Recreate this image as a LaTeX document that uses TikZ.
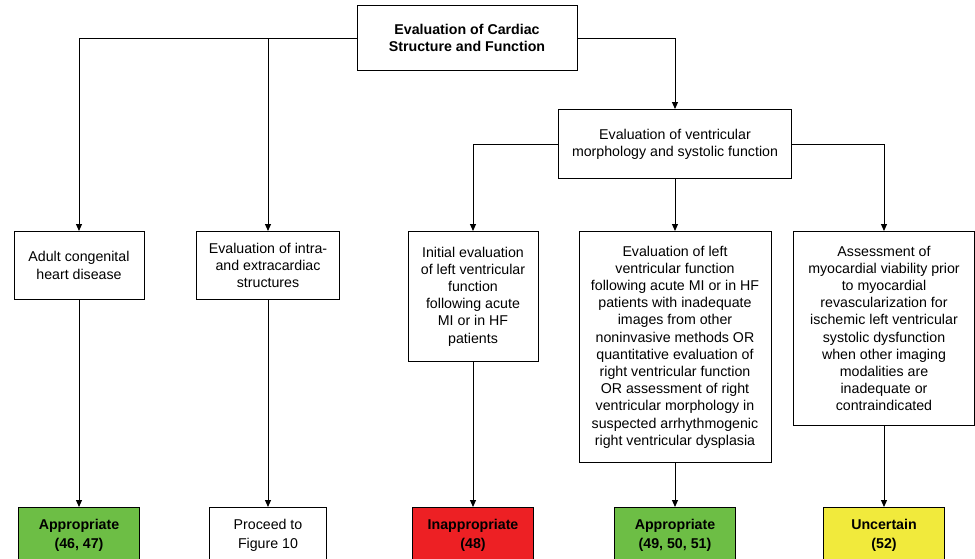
\documentclass[tikz,border=0pt]{standalone}
\usepackage{fontspec}
\setmainfont{Liberation Sans}
\usetikzlibrary{arrows.meta}
\definecolor{okgreen}{RGB}{109,190,69}
\definecolor{badred}{RGB}{237,32,36}
\definecolor{maybeyellow}{RGB}{241,234,60}
\begin{document}
\begin{tikzpicture}[x=1pt,y=-1pt,
  box/.style={draw=black, line width=1pt, align=center, inner sep=0pt,
    anchor=north, font=\fontsize{14.2}{17.2}\selectfont},
  outcome/.style={box, minimum width=121, minimum height=56},
  link/.style={draw=black, line width=1pt},
  arrowlink/.style={link, -{Triangle[length=7pt,width=6pt]}}]
\useasboundingbox (0,0) rectangle (975,558);
\clip (0,0) rectangle (975,558);
\fill[white] (0,0) rectangle (975,558);

% top level
\node[box, minimum width=220, minimum height=65, font=\fontsize{14.2}{17}\selectfont\bfseries]
  (root) at (467,5) {Evaluation of Cardiac\\Structure and Function};
\node[box, minimum width=233, minimum height=69] (vent) at (675,109)
  {Evaluation of ventricular\\morphology and systolic function};

% second level
\node[box, minimum width=130, minimum height=68] (achd) at (79,231)
  {Adult congenital\\heart disease};
\node[box, minimum width=143, minimum height=68] (intra) at (268,231)
  {Evaluation of intra-\\and extracardiac\\structures};
\node[box, minimum width=130, minimum height=130] (initial) at (473,231)
  {Initial evaluation\\of left ventricular\\function\\following acute\\MI or in HF\\patients};
\node[box, minimum width=192, minimum height=231] (lvfunc) at (675,231)
  {Evaluation of left\\ventricular function\\following acute MI or in HF\\patients with inadequate\\images from other\\noninvasive methods OR\\quantitative evaluation of\\right ventricular function\\OR assessment of right\\ventricular morphology in\\suspected arrhythmogenic\\right ventricular dysplasia};
\node[box, minimum width=181, minimum height=194] (viab) at (884,231)
  {Assessment of\\myocardial viability prior\\to myocardial\\revascularization for\\ischemic left ventricular\\systolic dysfunction\\when other imaging\\modalities are\\inadequate or\\contraindicated};

% outcomes
\node[outcome, fill=okgreen, font=\fontsize{14.2}{19}\selectfont\bfseries] (r1) at (79,507) {Appropriate\\(46, 47)};
\node[outcome, fill=white, minimum width=117, font=\fontsize{14.2}{19}\selectfont] (r2) at (268,507) {Proceed to\\Figure 10};
\node[outcome, fill=badred, font=\fontsize{14.2}{19}\selectfont\bfseries] (r3) at (473,507) {Inappropriate\\(48)};
\node[outcome, fill=okgreen, font=\fontsize{14.2}{19}\selectfont\bfseries] (r4) at (675,507) {Appropriate\\(49, 50, 51)};
\node[outcome, fill=maybeyellow, font=\fontsize{14.2}{19}\selectfont\bfseries] (r5) at (884,507) {Uncertain\\(52)};

% connectors
\draw[arrowlink] (root.west) -| (achd.north);
\draw[arrowlink] (root.west) -| (intra.north);
\draw[arrowlink] (root.east) -| (vent.north);
\draw[arrowlink] (vent.west) -| (initial.north);
\draw[arrowlink] (vent.south) -- (lvfunc.north);
\draw[arrowlink] (vent.east) -| (viab.north);
\draw[arrowlink] (achd.south) -- (r1.north);
\draw[arrowlink] (intra.south) -- (r2.north);
\draw[arrowlink] (initial.south) -- (r3.north);
\draw[arrowlink] (lvfunc.south) -- (r4.north);
\draw[arrowlink] (viab.south) -- (r5.north);
\end{tikzpicture}
\end{document}
